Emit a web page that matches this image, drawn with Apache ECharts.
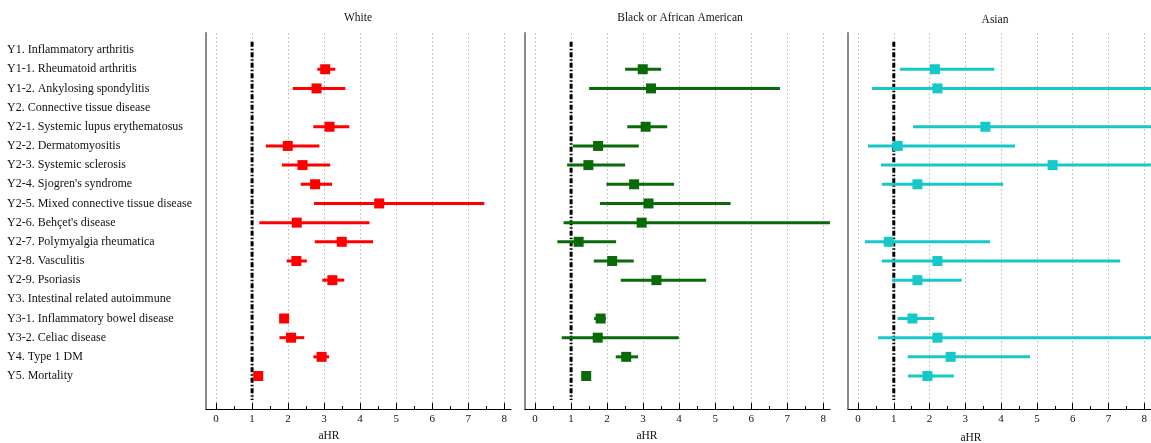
<!DOCTYPE html>
<html lang="en">
<head>
<meta charset="utf-8">
<title>aHR forest plot</title>
<style type="text/css">
  *{padding: 0;margin: 0;}
  body,html{width: 100%;height: 100%;background: #fff;}
  #main{width: 1151px;height: 443px;}
</style>
</head>
<body>
<div id="main"></div>
<script src="https://cdn.jsdelivr.net/npm/echarts@6/dist/echarts.min.js"></script>
<script type="text/javascript">
// outcome rows, top to bottom
var categories = [
  'Y1. Inflammatory arthritis',
  'Y1-1. Rheumatoid arthritis',
  'Y1-2. Ankylosing spondylitis',
  'Y2. Connective tissue disease',
  'Y2-1. Systemic lupus erythematosus',
  'Y2-2. Dermatomyositis',
  'Y2-3. Systemic sclerosis',
  "Y2-4. Sjogren's syndrome",
  'Y2-5. Mixed connective tissue disease',
  "Y2-6. Behçet's disease",
  'Y2-7. Polymyalgia rheumatica',
  'Y2-8. Vasculitis',
  'Y2-9. Psoriasis',
  'Y3. Intestinal related autoimmune',
  'Y3-1. Inflammatory bowel disease',
  'Y3-2. Celiac disease',
  'Y4. Type 1 DM',
  'Y5. Mortality'
];
var groups = ['White', 'Black or African American', 'Asian'];
var xTicks = [0, 1, 2, 3, 4, 5, 6, 7, 8];
var xHalfTicks = [0, 0.5, 1, 1.5, 2, 2.5, 3, 3.5, 4, 4.5, 5, 5.5, 6, 6.5, 7, 7.5, 8];

// aHR with 95% CI (null = header row / no estimate)
var whiteHR = [null, 3.03, 2.79, null, 3.15, 1.99, 2.40, 2.75, 4.53, 2.24, 3.49, 2.23, 3.23, null, 1.89, 2.08, 2.93, 1.17];
var whiteLo = [null, 2.81, 2.13, null, 2.70, 1.38, 1.83, 2.35, 2.72, 1.20, 2.74, 1.96, 2.95, null, 1.80, 1.76, 2.70, 1.12];
var whiteHi = [null, 3.31, 3.59, null, 3.70, 2.87, 3.17, 3.22, 7.45, 4.26, 4.36, 2.52, 3.56, null, 1.98, 2.45, 3.14, 1.22];

var blackHR = [null, 2.99, 3.22, null, 3.07, 1.75, 1.48, 2.75, 3.15, 2.96, 1.21, 2.14, 3.37, null, 1.82, 1.74, 2.53, 1.42];
var blackLo = [null, 2.50, 1.50, null, 2.56, 1.05, 0.89, 1.98, 1.80, 0.79, 0.62, 1.63, 2.38, null, 1.64, 0.74, 2.24, 1.37];
var blackHi = [null, 3.50, 6.80, null, 3.67, 2.88, 2.50, 3.86, 5.43, 8.50, 2.25, 2.74, 4.75, null, 1.96, 3.99, 2.86, 1.47];

var asianHR = [null, 2.15, 2.22, null, 3.56, 1.11, 5.44, 1.66, null, null, 0.86, 2.22, 1.66, null, 1.52, 2.22, 2.59, 1.94];
var asianLo = [null, 1.17, 0.39, null, 1.54, 0.28, 0.64, 0.67, null, null, 0.19, 0.67, 0.95, null, 1.11, 0.56, 1.39, 1.40];
var asianHi = [null, 3.81, 8.50, null, 8.50, 4.39, 8.50, 4.06, null, null, 3.69, 7.33, 2.90, null, 2.13, 8.50, 4.81, 2.68];

var refLine = [[1, -0.43], [1, 18.25]];

var colors = ['#ff0000', '#0a6a0a', '#16c8c8'];
var panels = [
  {hr: whiteHR, lo: whiteLo, hi: whiteHi, left: 206},
  {hr: blackHR, lo: blackLo, hi: blackHi, left: 525},
  {hr: asianHR, lo: asianLo, hi: asianHi, left: 848}
];
var serif = 'Liberation Serif';

function ciItem(params, api) {
  var y = api.value(2);
  var a = api.coord([api.value(0), y]);
  var b = api.coord([api.value(1), y]);
  var cs = params.coordSys;
  var x0 = Math.max(a[0], cs.x), x1 = Math.min(b[0], cs.x + cs.width);
  return {
    type: 'line',
    shape: {x1: x0, y1: a[1], x2: x1, y2: b[1]},
    style: {stroke: api.visual('color'), lineWidth: 3}
  };
}

var grid = [], xAxis = [], yAxis = [], series = [], graphic = [];
panels.forEach(function (p, g) {
  grid.push({left: p.left, width: 305, top: 33, height: 376});
  xAxis.push({
    type: 'value', gridIndex: g, min: -0.28, max: 8.19, position: 'bottom',
    axisLine: {onZero: false, lineStyle: {color: '#000', width: 1}},
    axisTick: {inside: true, length: 6, customValues: xTicks, lineStyle: {color: '#000'}},
    axisLabel: {customValues: xTicks, margin: 5, color: '#111', fontFamily: serif, fontSize: 11},
    splitLine: {show: true, lineStyle: {color: '#c4c4c4', type: [2, 2], width: 1}}
  });
  xAxis.push({
    type: 'value', gridIndex: g, min: -0.28, max: 8.19, position: 'bottom',
    axisLine: {show: false, onZero: false},
    axisTick: {inside: true, length: 3, customValues: xHalfTicks, lineStyle: {color: '#000'}},
    axisLabel: {show: false},
    splitLine: {show: false}
  });
  yAxis.push({
    type: 'value', gridIndex: g, inverse: true, min: -0.89, max: 18.72,
    axisLine: {show: true, onZero: false, lineStyle: {color: '#8a8a8a', width: 2}},
    axisTick: {show: false},
    splitLine: {show: false},
    axisLabel: g === 0 ? {
      show: true, customValues: categories.map(function (c, i) { return i; }),
      align: 'left', margin: 199, color: '#111', fontFamily: serif, fontSize: 12,
      formatter: function (v) { return categories[v] || ''; }
    } : {show: false}
  });

  var ci = [], pts = [];
  p.hr.forEach(function (v, i) {
    if (v == null) return;
    ci.push([p.lo[i], p.hi[i], i]);
    pts.push([v, i]);
  });
  series.push({
    type: 'line', xAxisIndex: g * 2, yAxisIndex: g, data: refLine,
    symbol: 'none', silent: true, z: 3,
    lineStyle: {color: '#000', width: 3, type: [5, 2, 1.5, 2]}
  });
  series.push({
    type: 'custom', name: groups[g], xAxisIndex: g * 2, yAxisIndex: g,
    renderItem: ciItem, encode: {x: [0, 1], y: 2}, data: ci,
    itemStyle: {color: colors[g]}, z: 4
  });
  series.push({
    type: 'scatter', name: groups[g], xAxisIndex: g * 2, yAxisIndex: g,
    symbol: 'rect', symbolSize: 10, data: pts, z: 5,
    itemStyle: {color: colors[g], opacity: 1}
  });
});

var titleFont = '11.5px "Liberation Serif"';
graphic = [
  {type: 'text', x: 358, y: 18, style: {text: groups[0], font: titleFont, fill: '#111', align: 'center', verticalAlign: 'middle'}},
  {type: 'text', x: 680, y: 18, style: {text: groups[1], font: titleFont, fill: '#111', align: 'center', verticalAlign: 'middle'}},
  {type: 'text', x: 995, y: 20, style: {text: groups[2], font: titleFont, fill: '#111', align: 'center', verticalAlign: 'middle'}},
  {type: 'text', x: 329, y: 436, style: {text: 'aHR', font: titleFont, fill: '#111', align: 'center', verticalAlign: 'middle'}},
  {type: 'text', x: 647, y: 436, style: {text: 'aHR', font: titleFont, fill: '#111', align: 'center', verticalAlign: 'middle'}},
  {type: 'text', x: 971, y: 438, style: {text: 'aHR', font: titleFont, fill: '#111', align: 'center', verticalAlign: 'middle'}}
];

var myChart = echarts.init(document.getElementById('main'));
myChart.setOption({
  animation: false,
  backgroundColor: '#fff',
  grid: grid,
  xAxis: xAxis,
  yAxis: yAxis,
  series: series,
  graphic: graphic
});
</script>
</body>
</html>
